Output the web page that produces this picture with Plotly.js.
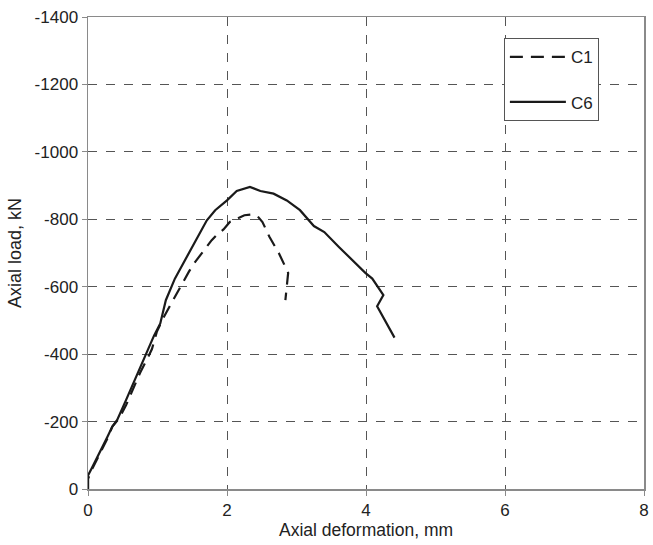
<!DOCTYPE html>
<html>
<head>
<meta charset="utf-8">
<script src="https://cdn.plot.ly/plotly-3.0.1.min.js"></script>
<style>html,body{margin:0;padding:0;background:#fff;}#chart{width:653px;height:545px;}</style>
</head>
<body>
<div id="chart"></div>
<script>
// C1 (dashed)
const c1X = [0, 0, 0.05, 0.1, 0.2, 0.28, 0.35, 0.45, 0.55, 0.65, 0.75, 0.85, 0.92, 0.99, 1.08, 1.17, 1.25, 1.35, 1.45, 1.54, 1.61, 1.7, 1.78, 1.86, 1.95, 2.04, 2.15, 2.25, 2.35, 2.44, 2.51, 2.61, 2.75, 2.88, 2.84];
const c1Y = [0, -30, -55, -75, -115, -150, -185, -210, -250, -300, -345, -385, -415, -466, -506, -540, -570, -604, -644, -673, -693, -715, -738, -755, -770, -792, -803, -812, -814, -809, -792, -748, -698, -641, -560];
// C6 (solid)
const c6X = [0, 0, 0.05, 0.1, 0.2, 0.28, 0.35, 0.42, 0.55, 0.7, 0.85, 0.95, 1.04, 1.12, 1.25, 1.42, 1.57, 1.71, 1.83, 2.0, 2.14, 2.33, 2.48, 2.67, 2.86, 3.05, 3.25, 3.4, 3.61, 3.8, 3.99, 4.09, 4.25, 4.16, 4.41];
const c6Y = [0, -40, -60, -80, -120, -155, -185, -205, -265, -335, -405, -455, -491, -560, -624, -688, -743, -797, -827, -856, -884, -896, -884, -876, -856, -827, -780, -762, -718, -678, -641, -624, -575, -542, -449];

const xTicks = [0, 2, 4, 6, 8];
const yTicks = [0, -200, -400, -600, -800, -1000, -1200, -1400];

const ink = '#1a1a1a';
const fam = 'Liberation Sans, Arial, sans-serif';
const traces = [
  {x: c1X, y: c1Y, name: 'C1', mode: 'lines', legendgroup: 'a',
   line: {color: ink, width: 2.2, dash: '13px,8px'}},
  {x: c6X, y: c6Y, name: 'C6', mode: 'lines', legendgroup: 'b',
   line: {color: ink, width: 2.2}}
];

const axisCommon = {
  showline: true, linecolor: '#8a8a8a', linewidth: 1.5, mirror: true,
  ticks: 'outside', ticklen: 5, tickcolor: '#8a8a8a',
  showgrid: true, gridcolor: '#555', griddash: 'dash', gridwidth: 1,
  zeroline: false,
  tickfont: {family: fam, size: 17, color: '#222'}
};

const layout = {
  width: 653, height: 545,
  margin: {l: 88, r: 9, t: 17, b: 56},
  paper_bgcolor: '#fff', plot_bgcolor: '#fff',
  showlegend: true,
  xaxis: Object.assign({}, axisCommon, {
    range: [0, 8], tickvals: xTicks, ticktext: xTicks.map(String),
    title: {text: 'Axial deformation, mm', standoff: 2,
      font: {family: fam, size: 17.5, color: '#222'}}
  }),
  yaxis: Object.assign({}, axisCommon, {
    range: [0, -1400], tickvals: yTicks, ticktext: yTicks.map(String),
    title: {text: 'Axial load, kN', standoff: 8,
      font: {family: fam, size: 18, color: '#222'}}
  }),
  legend: {
    x: 0.748, y: 0.955, xanchor: 'left', yanchor: 'top',
    bgcolor: '#fff', bordercolor: '#555', borderwidth: 1,
    traceorder: 'grouped', tracegroupgap: 20, itemwidth: 56,
    font: {family: fam, size: 17, color: '#222'}
  }
};

Plotly.newPlot('chart', traces, layout, {displayModeBar: false, staticPlot: true});
</script>
</body>
</html>
